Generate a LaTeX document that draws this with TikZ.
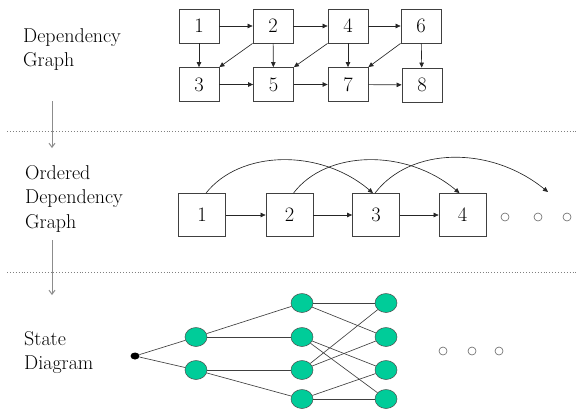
\documentclass[tikz,border=0pt]{standalone}
\usetikzlibrary{arrows.meta,shapes.geometric}
\definecolor{stategreen}{HTML}{00CC99}
\begin{document}
\begin{tikzpicture}[x=1pt,y=-1pt,
  lbl/.style={anchor=north west,inner sep=0pt,align=left,font=\fontsize{20}{24.5}\selectfont},
  tbox/.style={draw=black!75,line width=0.8pt,minimum width=40pt,minimum height=34pt,inner sep=0pt,font=\fontsize{20.5}{24}\selectfont},
  mbox/.style={draw=black!75,line width=0.8pt,minimum width=47pt,minimum height=43pt,inner sep=0pt,font=\fontsize{20.5}{24}\selectfont},
  arr/.style={draw=black!85,line width=0.65pt,-{Triangle[length=5pt,width=4.5pt]}},
  downarr/.style={draw=black!45,line width=1pt,-{Straight Barb[length=4pt,width=6pt]}},
  sep/.style={draw=black!50,dotted,line width=0.9pt},
  st/.style={ellipse,draw=black!70,fill=stategreen,line width=0.5pt,minimum width=22pt,minimum height=19pt,inner sep=0pt},
  ln/.style={draw=black!75,line width=0.65pt},
  dots/.style={circle,draw=black!60,line width=0.6pt,minimum size=8pt,inner sep=0pt}
]
\useasboundingbox (0,0) rectangle (577,410);

% left labels
\node[lbl] (l1) at (23,28) {Dependency\\Graph};
\node[lbl] (l2) at (25,165) {Ordered\\Dependency\\Graph};
\node[lbl] (l3) at (24,331) {State\\Diagram};

% separators
\coordinate (s1a) at (7,131); \coordinate (s1b) at (577,131);
\coordinate (s2a) at (7,272); \coordinate (s2b) at (577,272);
\draw[sep] (s1a) -- (s1b);
\draw[sep] (s2a) -- (s2b);

% down arrows
\coordinate (d1a) at (52,101); \coordinate (d1b) at (52,148);
\coordinate (d2a) at (52,240); \coordinate (d2b) at (52,295);
\draw[downarr] (d1a) -- (d1b);
\draw[downarr] (d2a) -- (d2b);

% dependency graph
\node[tbox] (t1) at (199,26) {1};
\node[tbox] (t2) at (273,26) {2};
\node[tbox] (t4) at (348,26) {4};
\node[tbox] (t6) at (421,26) {6};
\node[tbox] (t3) at (199,84.5) {3};
\node[tbox] (t5) at (273.5,84.5) {5};
\node[tbox] (t7) at (348,84.5) {7};
\node[tbox] (t8) at (422,85) {8};
\draw[arr] (t1) -- (t2);
\draw[arr] (t2) -- (t4);
\draw[arr] (t4) -- (t6);
\draw[arr] (t3) -- (t5);
\draw[arr] (t5) -- (t7);
\draw[arr] (t7) -- (t8);
\draw[arr] (t1) -- (t3);
\draw[arr] (t2) -- (t5);
\draw[arr] (t4) -- (t7);
\draw[arr] (t6) -- (t8);
\draw[arr] (t2.south west) -- (t3.north east);
\draw[arr] (t4.south west) -- (t5.north east);
\draw[arr] (t6.south west) -- (t7.north east);

% ordered dependency graph
\node[mbox] (m1) at (202,215) {1};
\node[mbox] (m2) at (289.5,215) {2};
\node[mbox] (m3) at (376,215) {3};
\node[mbox] (m4) at (462.5,215) {4};
\draw[arr] (m1) -- (m2);
\draw[arr] (m2) -- (m3);
\draw[arr] (m3) -- (m4);
\coordinate (free) at (548,192);
\draw[arr] ([xshift=4pt]m1.north) .. controls (240,150) and (320,148) .. ([xshift=-3pt]m3.north);
\draw[arr] ([xshift=4pt]m2.north) .. controls (326,150) and (406,148) .. ([xshift=-3pt]m4.north);
\draw[arr] ([xshift=-1pt]m3.north) .. controls (410,147) and (490,145) .. (free);
\node[dots] (o1) at (505,217) {};
\node[dots] (o2) at (538,217) {};
\node[dots] (o3) at (567,217) {};

% state diagram
\node[ellipse,fill=black,minimum width=9pt,minimum height=7pt,inner sep=0pt] (s0) at (135,356) {};
\node[st] (a1) at (196,337) {};
\node[st] (a2) at (196,370) {};
\node[st] (b1) at (302,303) {};
\node[st] (b2) at (302,337) {};
\node[st] (b3) at (302,370) {};
\node[st] (b4) at (302,399) {};
\node[st] (c1) at (386,303) {};
\node[st] (c2) at (386,337) {};
\node[st] (c3) at (386,370) {};
\node[st] (c4) at (386,399) {};
\draw[ln] (s0) -- (a1);
\draw[ln] (s0) -- (a2);
\draw[ln] (a1) -- (b1);
\draw[ln] (a1) -- (b2);
\draw[ln] (a2) -- (b3);
\draw[ln] (a2) -- (b4);
\draw[ln] (b1) -- (c1);
\draw[ln] (b1) -- (c2);
\draw[ln] (b2) -- (c3);
\draw[ln] (b2) -- (c4);
\draw[ln] (b3) -- (c1);
\draw[ln] (b3) -- (c2);
\draw[ln] (b4) -- (c3);
\draw[ln] (b4) -- (c4);
\node[dots] (p1) at (443,351) {};
\node[dots] (p2) at (472,351) {};
\node[dots] (p3) at (499,351) {};
\end{tikzpicture}
\end{document}
